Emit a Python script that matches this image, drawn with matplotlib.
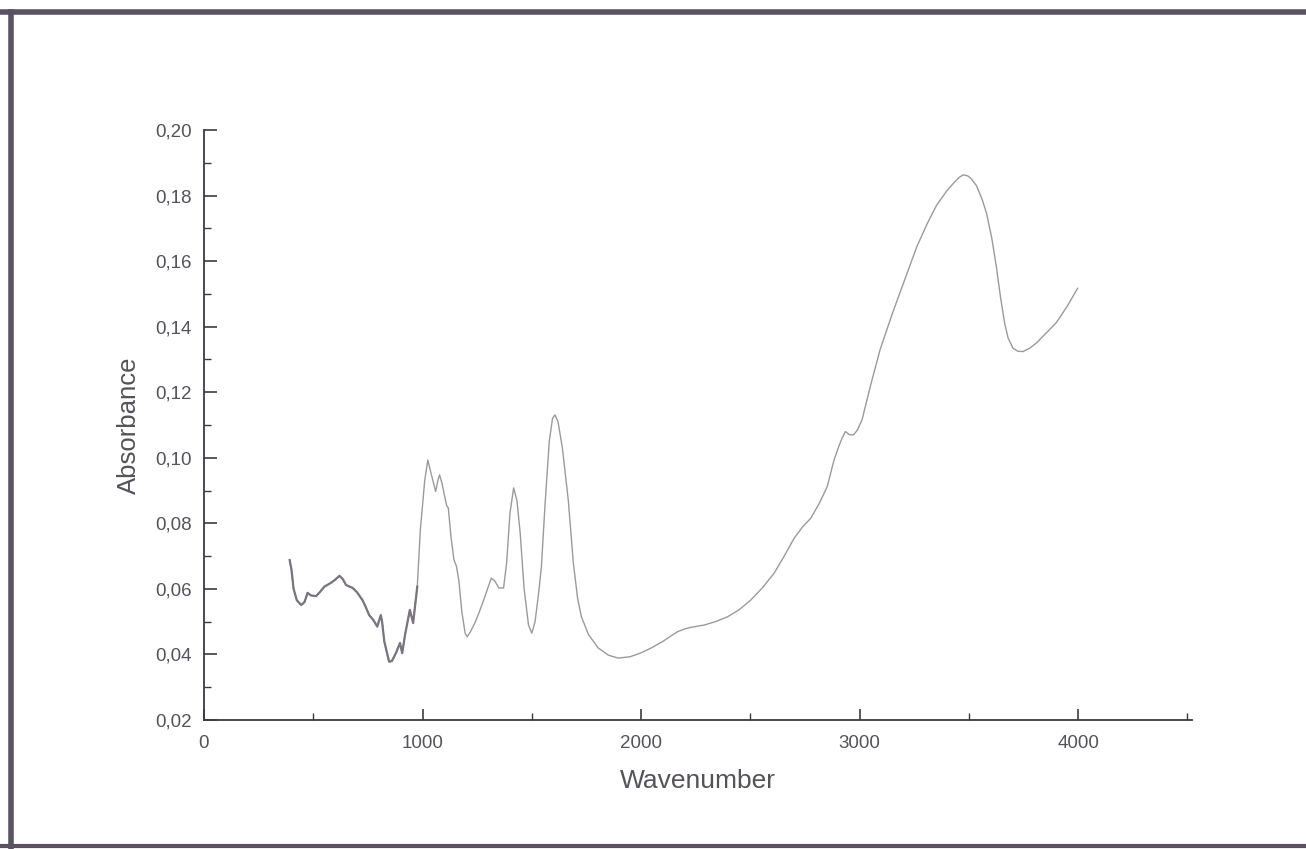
"""IR absorbance spectrum, redrawn from a scanned figure."""
import matplotlib

matplotlib.use("Agg")
import matplotlib.pyplot as plt
import numpy as np
from matplotlib.lines import Line2D
from matplotlib.ticker import FuncFormatter, MultipleLocator

plt.rcParams["font.family"] = ["Liberation Sans", "DejaVu Sans"]

# values (wavenumber, absorbance)
wavenumber = [
    392, 400, 410, 425, 445, 460, 474, 490, 513, 530, 551, 580, 600, 620, 635,
    650, 680, 700, 725, 740, 756, 775, 793, 800, 809, 815, 825, 847, 860, 878,
    897, 907, 920, 942, 957, 976, 990, 1010, 1024, 1040, 1060, 1070, 1078, 1090,
    1098, 1110, 1118, 1130, 1144, 1155, 1166, 1180, 1195, 1204, 1220, 1242, 1260,
    1280, 1300, 1315, 1330, 1349, 1371, 1385, 1400, 1417, 1432, 1447, 1465, 1485,
    1500, 1515, 1530, 1544, 1560, 1580, 1595, 1606, 1620, 1640, 1667, 1690, 1710,
    1727, 1760, 1804, 1850, 1895, 1950, 2000, 2047, 2100, 2140, 2169, 2200, 2230,
    2290, 2340, 2396, 2450, 2502, 2555, 2609, 2655, 2700, 2740, 2776, 2815, 2852,
    2883, 2905, 2920, 2935, 2955, 2973, 2990, 3011, 3050, 3094, 3150, 3201, 3262,
    3310, 3353, 3400, 3429, 3455, 3474, 3495, 3510, 3535, 3560, 3581, 3605, 3626,
    3645, 3664, 3680, 3702, 3725, 3748, 3780, 3809, 3860, 3900, 3950, 3998,
]
absorbance = [
    0.0688, 0.0660, 0.0600, 0.0565, 0.0551, 0.0560, 0.0588, 0.0580, 0.0578, 0.0590,
    0.0607, 0.0618, 0.0628, 0.0640, 0.0630, 0.0612, 0.0603, 0.0590, 0.0566, 0.0545,
    0.0520, 0.0505, 0.0485, 0.0500, 0.0520, 0.0500, 0.0440, 0.0378, 0.0380, 0.0404,
    0.0435, 0.0404, 0.0460, 0.0536, 0.0496, 0.0607, 0.0780, 0.0930, 0.0993, 0.0950,
    0.0897, 0.0930, 0.0948, 0.0920, 0.0893, 0.0855, 0.0847, 0.0760, 0.0688, 0.0670,
    0.0627, 0.0530, 0.0465, 0.0454, 0.0470, 0.0500, 0.0530, 0.0566, 0.0605, 0.0633,
    0.0625, 0.0603, 0.0603, 0.0680, 0.0830, 0.0908, 0.0870, 0.0770, 0.0600, 0.0490,
    0.0465, 0.0500, 0.0580, 0.0667, 0.0850, 0.1050, 0.1120, 0.1131, 0.1110, 0.1030,
    0.0871, 0.0680, 0.0570, 0.0515, 0.0460, 0.0420, 0.0398, 0.0389, 0.0393, 0.0405,
    0.0420, 0.0440, 0.0458, 0.0470, 0.0478, 0.0483, 0.0490, 0.0500, 0.0515, 0.0537,
    0.0566, 0.0603, 0.0648, 0.0700, 0.0754, 0.0790, 0.0815, 0.0860, 0.0912, 0.0993,
    0.1035, 0.1060, 0.1080, 0.1070, 0.1070, 0.1085, 0.1115, 0.1220, 0.1330, 0.1440,
    0.1533, 0.1644, 0.1715, 0.1771, 0.1815, 0.1837, 0.1855, 0.1863, 0.1860, 0.1852,
    0.1830, 0.1790, 0.1746, 0.1670, 0.1583, 0.1490, 0.1410, 0.1365, 0.1334, 0.1325,
    0.1324, 0.1335, 0.1350, 0.1385, 0.1412, 0.1462, 0.1517,
]

AXIS = "#3d3944"
TEXT = "#55525a"
LINE = "#9a9a9e"
NOISY = "#7a7380"
FRAME = "#5a5262"

fig = plt.figure(figsize=(13.06, 8.49), dpi=100, facecolor="white")
ax = fig.add_axes([0.1562, 0.1519, 0.7563, 0.6950])

x = np.array(wavenumber)
y = np.array(absorbance)
ax.plot(x, y, color=LINE, lw=1.0)
low = x <= 980
ax.plot(x[low], y[low], color=NOISY, lw=1.6)

ax.set_xlim(0, 4520)
ax.set_ylim(0.02, 0.20)
ax.xaxis.set_major_locator(MultipleLocator(1000))
ax.xaxis.set_minor_locator(MultipleLocator(500))
ax.yaxis.set_major_locator(MultipleLocator(0.02))
ax.yaxis.set_minor_locator(MultipleLocator(0.01))
ax.yaxis.set_major_formatter(FuncFormatter(lambda v, _: f"{v:.2f}".replace(".", ",")))

for s in ("top", "right"):
    ax.spines[s].set_visible(False)
for s in ("left", "bottom"):
    ax.spines[s].set_color(AXIS)
    ax.spines[s].set_linewidth(1.3)

ax.tick_params(which="major", direction="in", length=9, width=1.2, color=AXIS,
               labelsize=13.5, labelcolor=TEXT, pad=9)
ax.tick_params(which="minor", direction="in", length=5, width=1.0, color=AXIS)
ax.tick_params(axis="x", which="major", length=8, pad=11)

ax.set_xlabel("Wavenumber", fontsize=19, color=TEXT, labelpad=12)
ax.set_ylabel("Absorbance", fontsize=18.5, color=TEXT, labelpad=10)

# scanned page frame
fig.add_artist(Line2D([0, 1], [0.986, 0.986], transform=fig.transFigure, color=FRAME, lw=4.0))
fig.add_artist(Line2D([0.0085, 0.0085], [0.0, 0.986], transform=fig.transFigure, color=FRAME, lw=4.0))
fig.add_artist(Line2D([0, 1], [0.003, 0.003], transform=fig.transFigure, color=FRAME, lw=3.0))

fig.savefig("out.png", dpi=100, facecolor="white")
plt.close(fig)
